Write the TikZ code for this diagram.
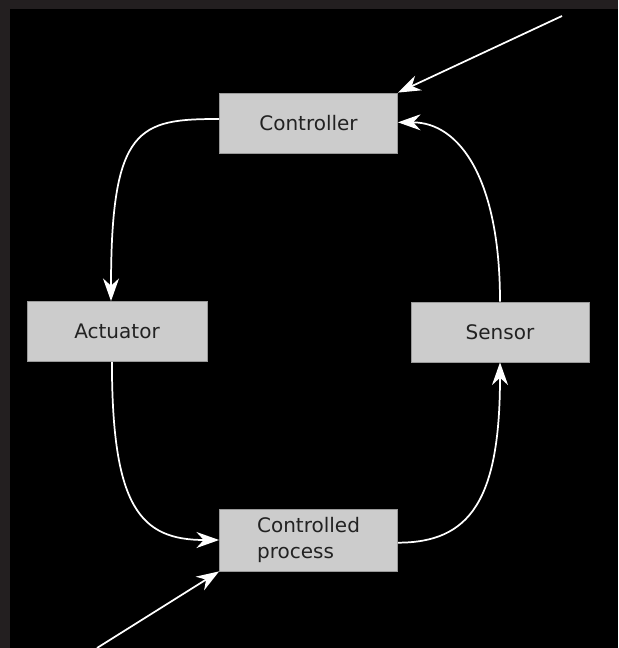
\documentclass[tikz,border=0pt]{standalone}
\usepackage{fontspec}
\setmainfont{DejaVu Sans}
\usetikzlibrary{arrows.meta}
\definecolor{frame}{HTML}{231F20}
\definecolor{boxfill}{HTML}{CCCCCC}
\definecolor{boxline}{HTML}{9A9A9A}
\definecolor{ink}{HTML}{222222}
\begin{document}
\begin{tikzpicture}[x=0.75pt,y=-0.75pt,
  blockbox/.style={draw=boxline,line width=0.6pt,fill=boxfill,text=ink,
    minimum width=133.5pt,minimum height=45pt,inner sep=0pt,
    font=\fontsize{15}{19}\selectfont},
  flow/.style={draw=white,line width=1.3pt,
    -{Stealth[length=17pt,width=12pt,inset=5.5pt,fill=white]}}]
  % background with dark frame strip on top and left
  \fill[frame] (0,0) rectangle (618,648);
  \fill[black] (10,9) rectangle (618,648);
  \useasboundingbox (0,0) rectangle (618,648);

  % blocks
  \node[blockbox] (ctrl) at (308.5,123) {Controller};
  \node[blockbox,minimum width=135pt] (act) at (117,331.5) {Actuator};
  \node[blockbox] (sens) at (500,332) {Sensor};
  \node[blockbox,minimum height=46.5pt,align=left] (proc) at (308.5,540)
    {Controlled\\process};

  % loop connectors
  \draw[flow] ([yshift=3pt]ctrl.west) .. controls +(-80,0) and +(0,-175) ..
    ([xshift=-4.5pt]act.north);
  \draw[flow] ([xshift=-3.8pt]act.south) .. controls +(0,145) and +(-79,0) ..
    (proc.west);
  \draw[flow] ([yshift=-2pt]proc.east) .. controls +(72,0) and +(0,138) ..
    (sens.south);
  \draw[flow] (sens.north) .. controls +(0,-122) and +(62,0) ..
    ([yshift=0.5pt]ctrl.east);

  % external inputs
  \coordinate (inTop) at (562,16);
  \coordinate (inBot) at (97,648);
  \draw[flow] (inTop) -- (ctrl.north east);
  \draw[flow] (inBot) -- (proc.south west);
\end{tikzpicture}
\end{document}
